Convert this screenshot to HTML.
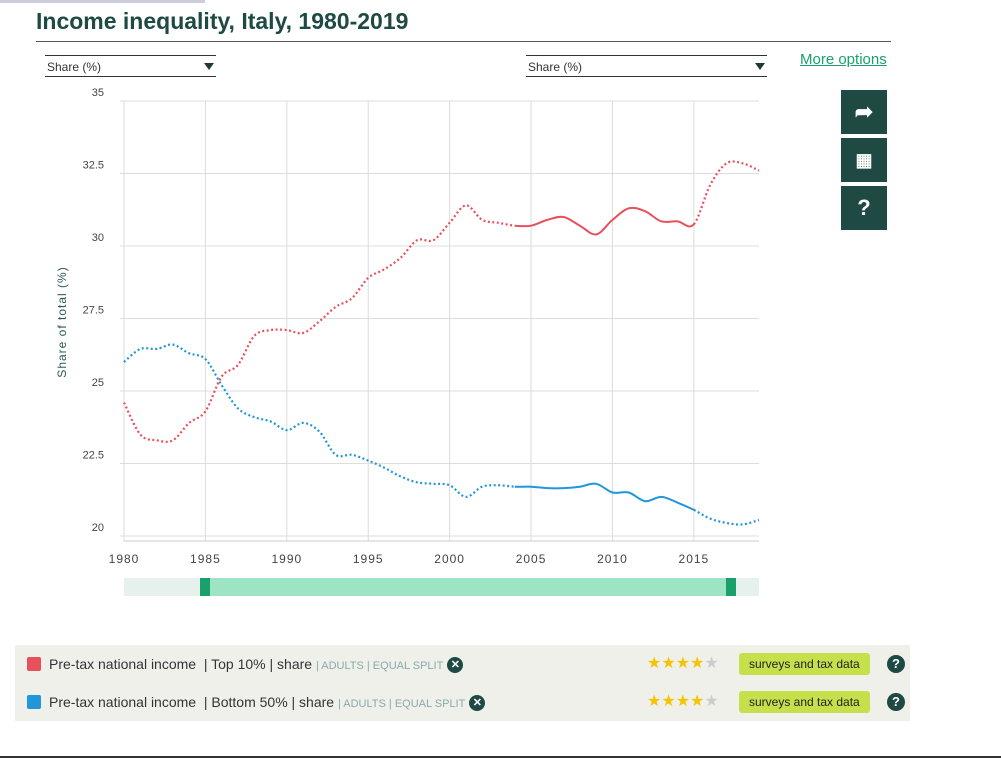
<!DOCTYPE html>
<html><head><meta charset="utf-8"><style>
body{margin:0;width:1001px;height:759px;background:#fff;font-family:"Liberation Sans",sans-serif;position:relative;overflow:hidden}
.abs{position:absolute}
.title{left:36px;top:8px;font-size:23px;font-weight:bold;color:#1f4a44}
.sel{border-top:1px solid #333;border-bottom:1px solid #333;height:22px;font-size:12px;color:#333;line-height:22px;padding-left:2px;box-sizing:border-box}
.tri{position:absolute;right:2px;top:7px;border-left:5px solid transparent;border-right:5px solid transparent;border-top:7px solid #1f3a36}
.btn{left:841px;width:46px;height:44px;background:#1f4a44;color:#fff;text-align:center;line-height:44px;font-size:22px;font-weight:bold}
.leg{left:15px;width:895px;height:38px;background:#f0f0eb;font-size:14px;color:#333;line-height:38px}
.sw{display:inline-block;width:14px;height:14px;border-radius:2px;vertical-align:-2px;margin:0 8px 0 12px}
.sm{font-size:11px;color:#8aa;}
.x{display:inline-block;width:16px;height:16px;border-radius:8px;background:#1f4a44;color:#fff;font-size:11px;line-height:16px;text-align:center;font-weight:bold;vertical-align:1px;margin-left:4px}
.stars{position:absolute;left:632px;color:#f4c400;font-size:16px}
.src{position:absolute;left:724px;top:8px;height:22px;line-height:22px;background:#c5e04a;border-radius:3px;padding:0 10px;font-size:12px;color:#222}
.q{position:absolute;left:872px;top:10px;width:18px;height:18px;border-radius:9px;background:#1f4a44;color:#fff;font-size:13px;line-height:18px;text-align:center;font-weight:bold}
</style></head><body>
<div class="abs title">Income inequality, Italy, 1980-2019</div>
<div class="abs" style="left:36px;top:41px;width:855px;border-top:1px solid #555"></div>
<div class="abs" style="left:0;top:0;width:205px;height:3px;background:#ccd"></div>
<div class="abs sel" style="left:45px;top:55px;width:171px">Share (%)<span class="tri"></span></div>
<div class="abs sel" style="left:526px;top:55px;width:241px">Share (%)<span class="tri"></span></div>
<div class="abs" style="left:800px;top:51px;font-size:15px;color:#1aa06a;text-decoration:underline">More options</div>
<div class="abs btn" style="top:90px">&#10150;</div>
<div class="abs btn" style="top:138px;font-size:18px">&#9638;</div>
<div class="abs btn" style="top:186px">?</div>
<svg class="abs" style="left:0;top:0" width="1001" height="640">
<g id="grid"></g><g id="lines"></g>
<rect x="124" y="578" width="635" height="18" fill="#e6f1ee"/>
<rect x="205" y="578" width="527" height="18" fill="#9de4c4"/>
<rect x="200" y="578" width="10" height="18" fill="#1aa06a"/>
<rect x="726" y="578" width="10" height="18" fill="#1aa06a"/>
<text transform="translate(66,322) rotate(-90)" text-anchor="middle" font-size="12" fill="#2a5a52" letter-spacing="1">Share of total (%)</text>
</svg>
<div class="abs leg" style="top:645px"><span class="sw" style="background:#e8505b"></span>Pre-tax national income &nbsp;| Top 10% | share <span class="sm">| ADULTS | EQUAL SPLIT</span><span class="x">✕</span><span class="stars">★★★★<span style="color:#ccc">★</span></span><span class="src">surveys and tax data</span><span class="q">?</span></div>
<div class="abs" style="left:25px;top:683px;width:880px;border-top:1px solid #ddd"></div>
<div class="abs leg" style="top:683px"><span class="sw" style="background:#2196d8"></span>Pre-tax national income &nbsp;| Bottom 50% | share <span class="sm">| ADULTS | EQUAL SPLIT</span><span class="x">✕</span><span class="stars">★★★★<span style="color:#ccc">★</span></span><span class="src">surveys and tax data</span><span class="q">?</span></div>
<div class="abs" style="left:0;top:756px;width:1001px;border-top:2px solid #333"></div>
<script>
const years=[];for(let y=1980;y<=2019;y++)years.push(y);
const top10=[24.6,23.5,23.3,23.3,23.9,24.3,25.5,25.9,26.9,27.1,27.1,27.0,27.4,27.9,28.2,28.9,29.2,29.6,30.2,30.2,30.8,31.4,30.9,30.8,30.7,30.7,30.9,31.0,30.7,30.4,30.9,31.3,31.2,30.85,30.85,30.75,32.1,32.85,32.85,32.6];
const bottom50=[26.0,26.45,26.45,26.6,26.3,26.1,25.2,24.4,24.1,23.95,23.65,23.9,23.6,22.8,22.8,22.6,22.35,22.05,21.85,21.8,21.75,21.35,21.7,21.75,21.7,21.7,21.65,21.65,21.7,21.8,21.5,21.5,21.2,21.35,21.15,20.9,20.6,20.45,20.4,20.55];
const yTicks=[20,22.5,25,27.5,30,32.5,35];
const xTicks=[1980,1985,1990,1995,2000,2005,2010,2015];
const solidFrom=2004, solidTo=2015;
const X=y=>124+(y-1980)*(635/39);
const Y=v=>101+(35-v)*29;
const NS="http://www.w3.org/2000/svg";
const g=document.getElementById('grid'),L=document.getElementById('lines');
function mk(tag,at,par){const e=document.createElementNS(NS,tag);for(const k in at)e.setAttribute(k,at[k]);par.appendChild(e);return e;}
yTicks.forEach(t=>{
 const l=mk('line',{x1:120,x2:759,y1:Y(t),y2:Y(t),stroke:'#ddd'},g);
 
 
 const tx=mk('text',{x:104,y:Y(t)-5,'text-anchor':'end','font-size':11,fill:'#444'},g);tx.textContent=t;
 
 
});
xTicks.forEach(t=>{
 const l=mk('line',{x1:X(t),x2:X(t),y1:101,y2:541,stroke:'#ddd'},g);
 
 
 const tx=mk('text',{x:X(t),y:563,'text-anchor':'middle','font-size':12,fill:'#444','letter-spacing':1},g);tx.textContent=t;
 
 
});
mk('line',{x1:124,x2:759,y1:541,y2:541,stroke:'#ccc'},g);
function path(vals,i0,i1){
 const p=vals.map((v,i)=>[X(years[i]),Y(v)]);
 let d='M'+p[i0][0]+','+p[i0][1];
 for(let i=i0;i<i1;i++){const a=p[Math.max(i-1,0)],b=p[i],c=p[i+1],e=p[Math.min(i+2,p.length-1)];
  d+=` C${b[0]+(c[0]-a[0])/6},${b[1]+(c[1]-a[1])/6} ${c[0]-(e[0]-b[0])/6},${c[1]-(e[1]-b[1])/6} ${c[0]},${c[1]}`;}
 return d;
}
function series(vals,color,name){
 const s=years.indexOf(solidFrom),e=years.indexOf(solidTo),n=vals.length-1;
 [[0,s,true],[s,e,false],[e,n,true]].forEach(([a,b,dot])=>{
  const el=mk('path',{d:path(vals,a,b),fill:'none',stroke:color,'stroke-width':dot?2.2:2,'stroke-dasharray':dot?'2,2.5':'none'},L);
  
  
 });
}
series(top10,'#e8505b','line-top10');
series(bottom50,'#2196d8','line-bottom50');
</script>
</body></html>
